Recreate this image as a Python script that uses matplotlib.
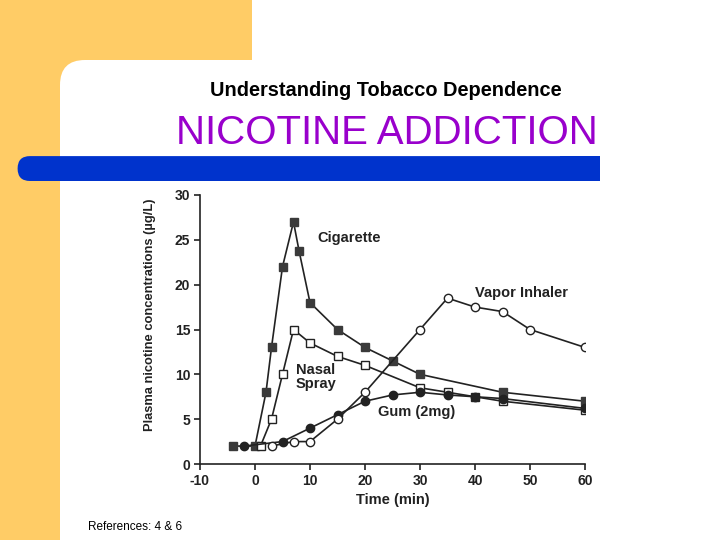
import matplotlib
matplotlib.use("Agg")
import matplotlib.pyplot as plt
from matplotlib.patches import Rectangle, FancyBboxPatch

plt.rcParams["font.family"] = ["Liberation Sans", "DejaVu Sans"]
plt.rcParams["axes.unicode_minus"] = False

# 数据
cig_x = [-4, 0, 2, 3, 5, 7, 8, 10, 15, 20, 25, 30, 45, 60]
cig_y = [2, 2, 8, 13, 22, 27, 23.8, 18, 15, 13, 11.5, 10, 8, 7]
nasal_x = [1, 3, 5, 7, 10, 15, 20, 30, 35, 40, 45, 60]
nasal_y = [2, 5, 10, 15, 13.5, 12, 11, 8.5, 8, 7.5, 7, 6]
gum_x = [-2, 5, 10, 15, 20, 25, 30, 35, 40, 45, 60]
gum_y = [2, 2.5, 4, 5.5, 7, 7.7, 8, 7.7, 7.5, 7.3, 6.2]
vapor_x = [3, 7, 10, 15, 20, 30, 35, 40, 45, 50, 60]
vapor_y = [2, 2.5, 2.5, 5, 8, 15, 18.5, 17.5, 17, 15, 13]

x_ticks = [-10, 0, 10, 20, 30, 40, 50, 60]
y_ticks = [0, 5, 10, 15, 20, 25, 30]

fig = plt.figure(figsize=(7.2, 5.4), dpi=100)

# 背景 (像素坐标)
bg = fig.add_axes([0, 0, 1, 1])
bg.set_xlim(0, 720)
bg.set_ylim(540, 0)
bg.axis("off")
bg.add_patch(Rectangle((0, 0), 252, 540, color="#FFCC66", lw=0))
bg.add_patch(FancyBboxPatch((85, 85), 700, 500, boxstyle="round,pad=25",
                            fc="white", ec="none"))
# 蓝色横条, 左端圆角
bg.add_patch(FancyBboxPatch((30, 168.5), 560, 0.1, boxstyle="round,pad=12.4",
                            fc="#0033CC", ec="none"))
bg.add_patch(Rectangle((560, 156), 40, 25, color="#0033CC", lw=0))
bg.add_patch(Rectangle((600, 140), 120, 60, color="white", lw=0))

bg.text(386, 90, "Understanding Tobacco Dependence", ha="center", va="center",
        fontsize=14.4, fontweight="bold", color="black")
bg.text(387, 133, "NICOTINE ADDICTION", ha="center", va="center",
        fontsize=29, color="#9900CC")
bg.text(88, 527, "References: 4 & 6", ha="left", va="center",
        fontsize=8.5, color="black")

# 图表
ax = fig.add_axes([200 / 720, 1 - 464 / 540, 385 / 720, 269 / 540])
ink = "#222222"
ax.plot(cig_x, cig_y, color=ink, lw=1.2, marker="s", ms=6, mfc="#3a3a3a", mec="#3a3a3a", zorder=3)
ax.plot(nasal_x, nasal_y, color=ink, lw=1.2, marker="s", ms=6, mfc="white", mec=ink, zorder=3)
ax.plot(gum_x, gum_y, color=ink, lw=1.2, marker="o", ms=6, mfc="#222222", mec=ink, zorder=3)
ax.plot(vapor_x, vapor_y, color=ink, lw=1.2, marker="o", ms=6, mfc="white", mec=ink, zorder=3)

ax.set_xlim(-10, 60)
ax.set_ylim(0, 30)
ax.set_xticks(x_ticks)
ax.set_yticks(y_ticks)
for s in ["top", "right"]:
    ax.spines[s].set_visible(False)
for s in ["left", "bottom"]:
    ax.spines[s].set_color(ink)
    ax.spines[s].set_linewidth(1.2)
ax.tick_params(direction="out", length=4, width=1.2, colors=ink, labelsize=10)
ax.tick_params(axis="y", pad=3)
for lab in ax.get_xticklabels() + ax.get_yticklabels():
    lab.set_fontweight("bold")
ax.patch.set_alpha(0)

tk = dict(fontsize=10.5, fontweight="bold", color=ink)
ax.text(11.3, 25.2, "Cigarette", ha="left", va="center", **tk)
ax.text(40, 19.1, "Vapor Inhaler", ha="left", va="center", **tk)
ax.text(7.4, 9.7, "Nasal\nSpray", ha="left", va="center", linespacing=0.95, **tk)
ax.text(22.3, 5.8, "Gum (2mg)", ha="left", va="center", **tk)

ax.set_xlabel("Time (min)", fontsize=10.5, fontweight="bold", color=ink, labelpad=3)
ax.set_ylabel("Plasma nicotine concentrations (\u00b5g/L)", fontsize=9.3,
              fontweight="bold", color=ink)
ax.yaxis.set_label_coords(-0.115, 0.554)

fig.savefig("out.png", dpi=100)
